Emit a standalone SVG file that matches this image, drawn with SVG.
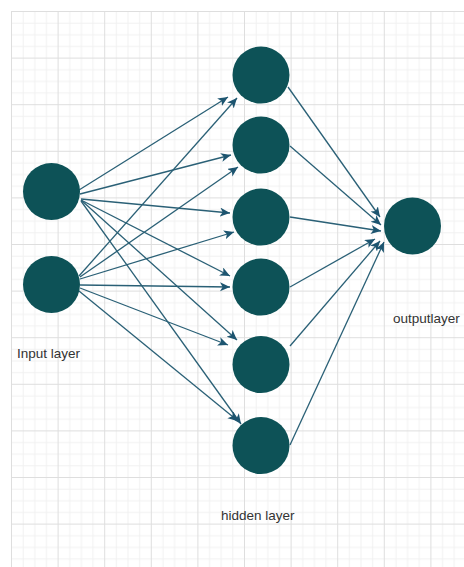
<svg xmlns="http://www.w3.org/2000/svg" width="464" height="567" viewBox="0 0 464 567">
<defs>
<pattern id="grid" x="11" y="11" width="46.6" height="46.6" patternUnits="userSpaceOnUse">
<path d="M12.15 0V46.6M23.8 0V46.6M35.45 0V46.6M0 12.15H46.6M0 23.8H46.6M0 35.45H46.6" stroke="#f1f1f1" stroke-width="1" fill="none"/>
<path d="M0.5 0V46.6M0 0.5H46.6" stroke="#dedede" stroke-width="1" fill="none"/>
</pattern>
<marker id="arr" markerUnits="userSpaceOnUse" markerWidth="12" markerHeight="10" refX="10" refY="4.5" orient="auto">
<path d="M0,0 L10,4.5 L0,9 L2.6,4.5 Z" fill="#1d5570"/>
</marker>
</defs>
<style>
.node{fill:#0d5257;}
.edge{stroke:#2a6076;stroke-width:1.3;fill:none;marker-end:url(#arr);}
.lbl{font-family:"Liberation Sans",Arial,sans-serif;font-size:13.5px;fill:#333333;}
</style>
<rect width="464" height="567" fill="#ffffff"/>
<rect x="11" y="11" width="453" height="556" fill="url(#grid)"/>
<g id="connectors">
<line class="edge" x1="79" y1="190" x2="228" y2="97"/>
<line class="edge" x1="80" y1="194" x2="231" y2="155"/>
<line class="edge" x1="81" y1="199" x2="230" y2="213"/>
<line class="edge" x1="81" y1="200" x2="230" y2="276"/>
<line class="edge" x1="81" y1="200" x2="237" y2="340"/>
<line class="edge" x1="81" y1="201" x2="241" y2="424"/>
<line class="edge" x1="79" y1="276" x2="237" y2="98"/>
<line class="edge" x1="80" y1="277" x2="238" y2="167"/>
<line class="edge" x1="80" y1="279" x2="234" y2="232"/>
<line class="edge" x1="80" y1="285" x2="230" y2="287"/>
<line class="edge" x1="80" y1="288" x2="228" y2="345"/>
<line class="edge" x1="79" y1="291" x2="238" y2="421"/>
<line class="edge" x1="288" y1="87" x2="380" y2="217"/>
<line class="edge" x1="290" y1="146" x2="381" y2="225"/>
<line class="edge" x1="290" y1="217" x2="381" y2="231"/>
<line class="edge" x1="290" y1="287" x2="375" y2="239"/>
<line class="edge" x1="290" y1="346" x2="380" y2="241"/>
<line class="edge" x1="290" y1="445" x2="384" y2="242"/>
</g>
<g id="input1"><circle class="node" cx="51.5" cy="191.5" r="28.5"/></g>
<g id="input2"><circle class="node" cx="51.5" cy="284.5" r="28.5"/></g>
<g id="hidden1"><circle class="node" cx="261" cy="75" r="28.5"/></g>
<g id="hidden2"><circle class="node" cx="261" cy="145" r="28.5"/></g>
<g id="hidden3"><circle class="node" cx="261" cy="217" r="28.5"/></g>
<g id="hidden4"><circle class="node" cx="261" cy="287" r="28.5"/></g>
<g id="hidden5"><circle class="node" cx="261" cy="364.5" r="28.5"/></g>
<g id="hidden6"><circle class="node" cx="261" cy="445.5" r="28.5"/></g>
<g id="output1"><circle class="node" cx="412.5" cy="226" r="28.5"/></g>
<g id="label-input"><text class="lbl" x="17" y="358">Input layer</text></g>
<g id="label-hidden"><text class="lbl" x="221" y="520">hidden layer</text></g>
<g id="label-output"><text class="lbl" x="393" y="323">outputlayer</text></g>
</svg>
